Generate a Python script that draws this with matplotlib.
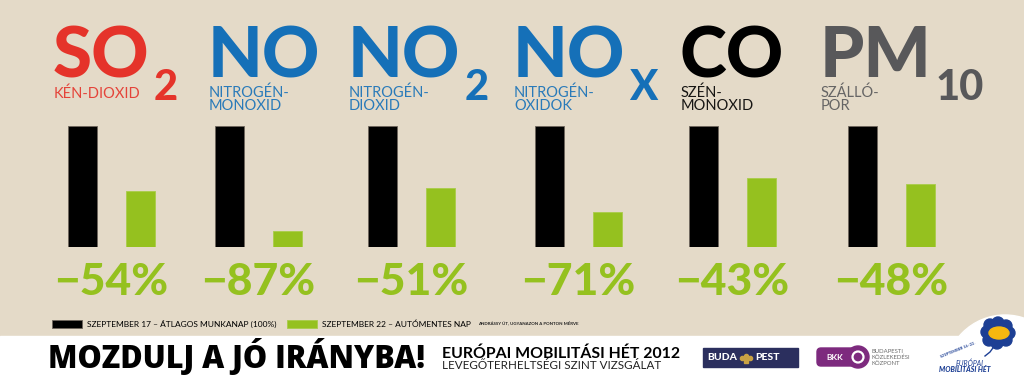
import matplotlib
matplotlib.use("Agg")
import matplotlib.pyplot as plt
from matplotlib.patches import Rectangle, Circle, Ellipse, FancyBboxPatch

# adatok
kepletek = ["SO", "NO", "NO", "NO", "CO", "PM"]
indexek = ["2", "", "2", "X", "", "10"]
nevek = ["KÉN-DIOXID", "NITROGÉN-\nMONOXID", "NITROGÉN-\nDIOXID",
         "NITROGÉN-\nOXIDOK", "SZÉN-\nMONOXID", "SZÁLLÓ-\nPOR"]
munkanap = [100, 100, 100, 100, 100, 100]      # szept 17 = 100%
csokkenes = [54, 87, 51, 71, 43, 48]           # szept 22 csökkenés %
jelmagyarazat = ["SZEPTEMBER 17 – ÁTLAGOS MUNKANAP (100%)",
                 "SZEPTEMBER 22 – AUTÓMENTES NAP"]
automentes = [100 - c for c in csokkenes]

# elrendezés (pixel)
W, H = 1024, 378
fekete_x = [68, 215, 368, 535, 689, 848]
cim_x = [53, 208, 348, 513, 680, 820]
szinek = ["#E5332A", "#1570B8", "#1570B8", "#1570B8", "#000000", "#58585A"]
HATTER = "#E4DAC8"
ZOLD = "#95C11F"
KEK = "#1D3F94"
FONT = ["Lato", "DejaVu Sans"]

fig = plt.figure(figsize=(W / 100, H / 100), dpi=100)
fig.patch.set_facecolor(HATTER)

bg = fig.add_axes([0, 0, 1, 1])
bg.set_xlim(0, W)
bg.set_ylim(H, 0)
bg.axis("off")

# oszlopok
ax = fig.add_axes([0, (H - 247) / H, 1, 121 / H])
ax.set_xlim(0, W)
ax.set_ylim(0, 100)
ax.axis("off")
ax.patch.set_alpha(0)
ax.bar(fekete_x, munkanap, width=29, align="edge", color="black",
       edgecolor="#6e665c", linewidth=0.6, label=jelmagyarazat[0])
ax.bar([x + 58 for x in fekete_x], automentes, width=29, align="edge",
       color=ZOLD, edgecolor="#a9cc4a", linewidth=0.6, label=jelmagyarazat[1])

# százalékok
for x, c in zip(fekete_x, csokkenes):
    bg.text(x + 43.5, 295, f"−{c}%", ha="center", va="baseline", fontsize=32,
            fontweight="black", family=FONT, color=ZOLD)

# címek
fig.canvas.draw()
r = fig.canvas.get_renderer()
for x, k, i, n, sz in zip(cim_x, kepletek, indexek, nevek, szinek):
    t = bg.text(x, 77, k, va="baseline", ha="left", fontsize=51, fontweight="black",
                family=FONT, color=sz)
    sorok = n.split("\n")
    y0 = 98 if len(sorok) == 1 else 97
    for j, s in enumerate(sorok):
        bg.text(x + 1, y0 + 12.5 * j, s, va="baseline", ha="left", fontsize=10.5,
                fontweight="normal", family=FONT, color=sz, alpha=0.9)
    if i:
        x1 = t.get_window_extent(r).x1
        bg.text(x1 + 4, 100, i, va="baseline", ha="left", fontsize=30,
                fontweight="black", family=FONT, color=sz)

# jelmagyarázat
leg = ax.legend(loc="center left", bbox_to_anchor=(52 / W, 1 - 324 / H),
                bbox_transform=fig.transFigure, ncol=2, frameon=False,
                prop={"family": FONT, "size": 6}, handlelength=3.6,
                handleheight=1.2, handletextpad=0.6, columnspacing=1.3,
                borderpad=0, borderaxespad=0)
bg.text(478, 324, "ANDRÁSSY ÚT, UGYANAZON A PONTON MÉRVE", va="center",
        fontsize=3.2, fontweight="bold", family=FONT, color="#222222")

# alsó sáv
bg.add_patch(Rectangle((0, 336), W, 42, color="white", zorder=1))
bg.add_patch(Circle((1005, 375), 60, color="white", zorder=1))

bg.text(48, 368, "MOZDULJ A JÓ IRÁNYBA!", va="baseline", fontsize=22,
        fontweight="heavy", family=["Open Sans", "DejaVu Sans"], color="black", zorder=3)
bg.text(442, 358, "EURÓPAI MOBILITÁSI HÉT 2012", va="baseline", fontsize=11.4,
        fontweight="bold", family=FONT, color="black", zorder=3)
bg.text(442, 369, "LEVEGŐTERHELTSÉGI SZINT VIZSGÁLAT", va="baseline", fontsize=8.4,
        fontweight="normal", family=FONT, color="#222222", zorder=3)

# budapest logó
bg.add_patch(Rectangle((703, 348), 95, 19, color="#2B2F5E", zorder=3))
bg.text(737, 358, "BUDA", ha="right", va="center", fontsize=7.5, fontweight="black",
        family=FONT, color="white", zorder=4)
bg.plot([742, 746, 750], [358, 356, 358], marker="o", ms=3, ls="", color="#C9A244", zorder=4)
bg.plot([746], [360.5], marker="s", ms=3, ls="", color="#C9A244", zorder=4)
bg.text(755, 358, "PEST", ha="left", va="center", fontsize=7.5, fontweight="black",
        family=FONT, color="white", zorder=4)

# bkk logó
bg.add_patch(FancyBboxPatch((818, 349), 40, 16, boxstyle="round,pad=1,rounding_size=4",
                            color="#7D2A7E", zorder=3))
bg.add_patch(Circle((858, 357), 11, color="#7D2A7E", zorder=3))
bg.add_patch(Circle((858, 357), 5.5, fill=False, edgecolor="white", linewidth=1.6, zorder=4))
bg.text(835, 357.5, "BKK", ha="center", va="center", fontsize=6, fontweight="bold",
        family=FONT, color="white", zorder=4)
bg.text(872, 357.5, "BUDAPESTI\nKÖZLEKEDÉSI\nKÖZPONT", ha="left", va="center",
        fontsize=4.3, family=FONT, color="#6d6d6d", linespacing=1.15, zorder=4)

# mobilitási hét logó
for dx, dy in [(-10, -4), (-7, -11), (1, -13), (9, -10), (12, -3), (9, 4), (0, 7), (-8, 4)]:
    bg.add_patch(Circle((997 + dx, 336 + dy), 6, color=KEK, zorder=3))
bg.add_patch(Ellipse((999, 333), 20, 12, color="#F6B80F", zorder=4))
bg.plot([995, 990, 985], [345, 352, 356], color=KEK, lw=1, zorder=3)
bg.text(958, 350, "SZEPTEMBER 16–22.", fontsize=2.8, rotation=22, ha="center",
        va="center", family=FONT, fontweight="bold", color=KEK, zorder=4)
bg.text(970, 363, "EURÓPAI", fontsize=5, ha="center", va="center", style="italic",
        family=FONT, color=KEK, zorder=4)
bg.text(965, 370, "MOBILITÁSI HÉT", fontsize=5, ha="center", va="center",
        style="italic", fontweight="black", family=FONT, color=KEK, zorder=4)

fig.savefig("out.png", dpi=100, facecolor=HATTER)
